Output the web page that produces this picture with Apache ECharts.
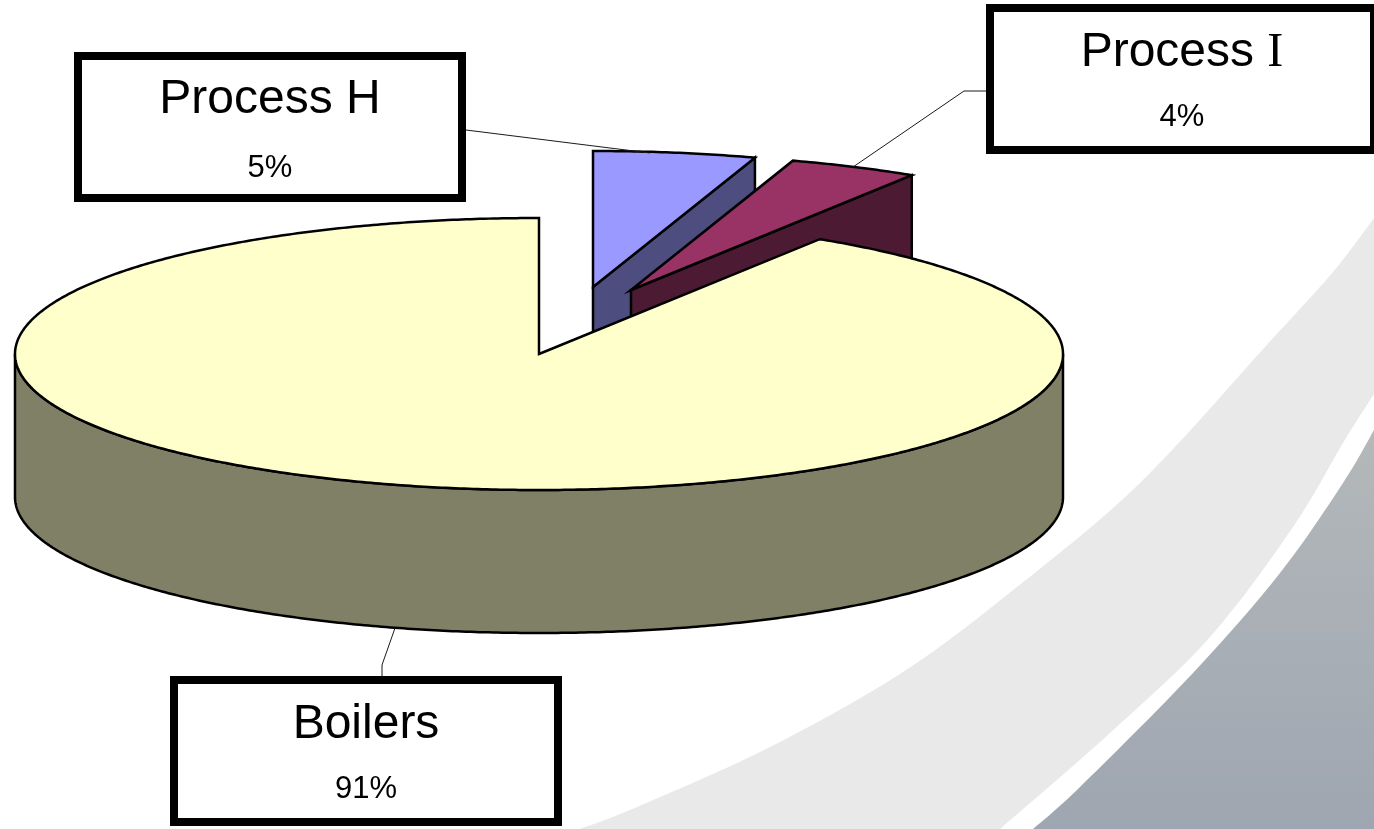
<!DOCTYPE html>
<html>
<head>
<meta charset="utf-8">
<title>Energy use by source</title>
<style>
  html, body { margin: 0; padding: 0; background: #ffffff; }
  #chart { width: 1374px; height: 829px; }
</style>
<script src="https://cdn.jsdelivr.net/npm/echarts@6/dist/echarts.min.js"></script>
</head>
<body>
<div id="chart"></div>
<script>
// Slices, clockwise from twelve o'clock
const categories = ['Process H', 'Process I', 'Boilers'];
const shares = [5, 4, 91];

// Slice colours: top face and the darker side face
const topColors = ['#9999FF', '#993366', '#FFFFCC'];
const sideColors = ['#4D4D80', '#4D1A33', '#808066'];

// Projected disc geometry
const centerX = 539, centerY = 354, radiusX = 524, radiusY = 136, depth = 143;

// How far each slice is pulled out of the disc, in pixels
const explode = [[54, -67], [92, -64], [0, 0]];

// Callout boxes and their leader lines
const boxes = [
  { x: 74, y: 52, titleY: 100, valueY: 168, leader: [[466, 130], [650, 153]] },
  { x: 986, y: 4, titleY: 53, valueY: 117, leader: [[986, 91], [964, 91], [853, 167]] },
  { x: 170, y: 676, titleY: 725, valueY: 789, leader: [[382, 676], [382, 665], [395, 628]] }
];
const boxWidth = 392, boxHeight = 150, boxBorder = 8;

const FONT_SANS = '"Liberation Sans", Arial, sans-serif';
const FONT_SERIF = '"Liberation Serif", "Times New Roman", serif';

// Turns a list of points into a smooth open path (Catmull-Rom to cubic Bezier)
function curve(points) {
  let d = 'M' + points[0].join(' ');
  for (let i = 0; i < points.length - 1; i++) {
    const p0 = points[Math.max(i - 1, 0)], p1 = points[i];
    const p2 = points[i + 1], p3 = points[Math.min(i + 2, points.length - 1)];
    d += ' C' + (p1[0] + (p2[0] - p0[0]) / 6) + ' ' + (p1[1] + (p2[1] - p0[1]) / 6) +
         ' ' + (p2[0] - (p3[0] - p1[0]) / 6) + ' ' + (p2[1] - (p3[1] - p1[1]) / 6) +
         ' ' + p2[0] + ' ' + p2[1];
  }
  return d;
}

// Page backdrop: pale band, white strip, then the slate wedge in the corner
const bandOuter = [[1374, 218], [1333, 272], [1265, 347], [1140, 483], [1017, 587], [903, 672], [770, 747], [637, 807], [580, 829]];
const bandInner = [[1374, 394], [1343, 443], [1293, 527], [1210, 637], [1110, 733], [1000, 829]];
const wedgeEdge = [[1374, 430], [1343, 483], [1280, 573], [1193, 673], [1080, 787], [1033, 829]];

function renderBackdrop() {
  return {
    type: 'group',
    children: [
      {
        type: 'path',
        shape: { pathData: curve(bandOuter) + ' L1374 829 Z' },
        style: { fill: '#E9E9E9' }
      },
      {
        type: 'path',
        shape: { pathData: curve(bandInner) + ' L1374 829 Z' },
        style: { fill: '#FFFFFF' }
      },
      {
        type: 'path',
        shape: { pathData: curve(wedgeEdge) + ' L1374 829 Z' },
        style: {
          fill: {
            type: 'linear', x: 0, y: 0, x2: 0, y2: 1,
            colorStops: [{ offset: 0, color: '#B4B8BA' }, { offset: 1, color: '#9EA6B1' }]
          }
        }
      }
    ]
  };
}

// A point on the rim of the disc; the angle runs clockwise from twelve o'clock
function rim(deg, ox, oy, drop) {
  const a = deg * Math.PI / 180;
  return [centerX + ox + radiusX * Math.sin(a), centerY + oy - radiusY * Math.cos(a) + (drop || 0)];
}

function arc(from, to, ox, oy, drop) {
  const pts = [];
  const steps = Math.max(2, Math.ceil(Math.abs(to - from) * 2));
  for (let i = 0; i <= steps; i++) pts.push(rim(from + (to - from) * i / steps, ox, oy, drop));
  return pts;
}

const total = shares.reduce((s, v) => s + v, 0);
const outline = { stroke: '#000000', lineWidth: 2.5, lineJoin: 'miter' };

function renderSlice(params, api) {
  const i = params.dataIndex;
  const value = api.value(1);
  let before = 0;
  for (let k = 0; k < i; k++) before += api.value(1, k);
  const a0 = before / total * 360;
  const a1 = (before + value) / total * 360;
  const [ox, oy] = explode[i];
  const apex = [centerX + ox, centerY + oy];
  const children = [];

  // The cut face on the clockwise side shows while it looks towards the viewer
  if (Math.sin(a1 * Math.PI / 180) > 1e-6) {
    const c = rim(a1, ox, oy);
    children.push({
      type: 'polygon',
      shape: { points: [apex, c, [c[0], c[1] + depth], [apex[0], apex[1] + depth]] },
      style: Object.assign({ fill: sideColors[i] }, outline)
    });
  }

  // The outer wall is only seen along the front half of the rim
  const w0 = Math.max(a0, 90), w1 = Math.min(a1, 270);
  if (w1 > w0) {
    const upper = arc(w0, w1, ox, oy);
    const lower = arc(w1, w0, ox, oy, depth);
    children.push({
      type: 'polygon',
      shape: { points: upper.concat(lower) },
      style: Object.assign({ fill: sideColors[i] }, outline)
    });
  }

  // Top face
  children.push({
    type: 'polygon',
    shape: { points: [apex].concat(arc(a0, a1, ox, oy)) },
    style: Object.assign({ fill: topColors[i] }, outline)
  });

  return { type: 'group', children };
}

// Callouts sit above every slice, so they live in a series of their own
function renderCallout(params, api) {
  const i = params.dataIndex;
  const name = categories[i];
  const box = boxes[i];
  const cx = box.x + boxWidth / 2;
  const inset = boxBorder / 2;
  const suffix = name.match(/^(.*) I$/);
  const titleStyle = suffix
    ? {
        text: '{a|' + suffix[1] + ' }{b|I}',
        rich: {
          a: { font: '48px ' + FONT_SANS, fill: '#000000' },
          b: { font: '48px ' + FONT_SERIF, fill: '#000000' }
        }
      }
    : { text: name, font: '48px ' + FONT_SANS };
  return {
    type: 'group',
    children: [
      {
        type: 'polyline',
        shape: { points: box.leader },
        style: { stroke: '#1A1A1A', lineWidth: 1, fill: null }
      },
      {
        type: 'rect',
        shape: {
          x: box.x + inset, y: box.y + inset,
          width: boxWidth - boxBorder, height: boxHeight - boxBorder
        },
        style: { fill: '#FFFFFF', stroke: '#000000', lineWidth: boxBorder }
      },
      {
        type: 'text',
        style: Object.assign({
          x: cx, y: box.titleY, fill: '#000000',
          align: 'center', verticalAlign: 'middle'
        }, titleStyle)
      },
      {
        type: 'text',
        style: {
          x: cx, y: box.valueY, text: api.value(1) + '%',
          font: '31px ' + FONT_SANS, fill: '#000000',
          align: 'center', verticalAlign: 'middle'
        }
      }
    ]
  };
}

const chart = echarts.init(document.getElementById('chart'), null, { renderer: 'canvas' });
const seriesData = categories.map((name, i) => [i, shares[i]]);

chart.setOption({
  animation: false,
  backgroundColor: '#FFFFFF',
  series: [
    {
      type: 'custom', name: 'Backdrop', z: 1, silent: true,
      coordinateSystem: 'none', clip: false,
      renderItem: renderBackdrop, data: [[0]]
    },
    {
      type: 'custom', name: 'Share', z: 2, silent: true,
      coordinateSystem: 'none', clip: false,
      renderItem: renderSlice, data: seriesData
    },
    {
      type: 'custom', name: 'Callouts', z: 3, silent: true,
      coordinateSystem: 'none', clip: false,
      renderItem: renderCallout, data: seriesData
    }
  ]
});
</script>
</body>
</html>
